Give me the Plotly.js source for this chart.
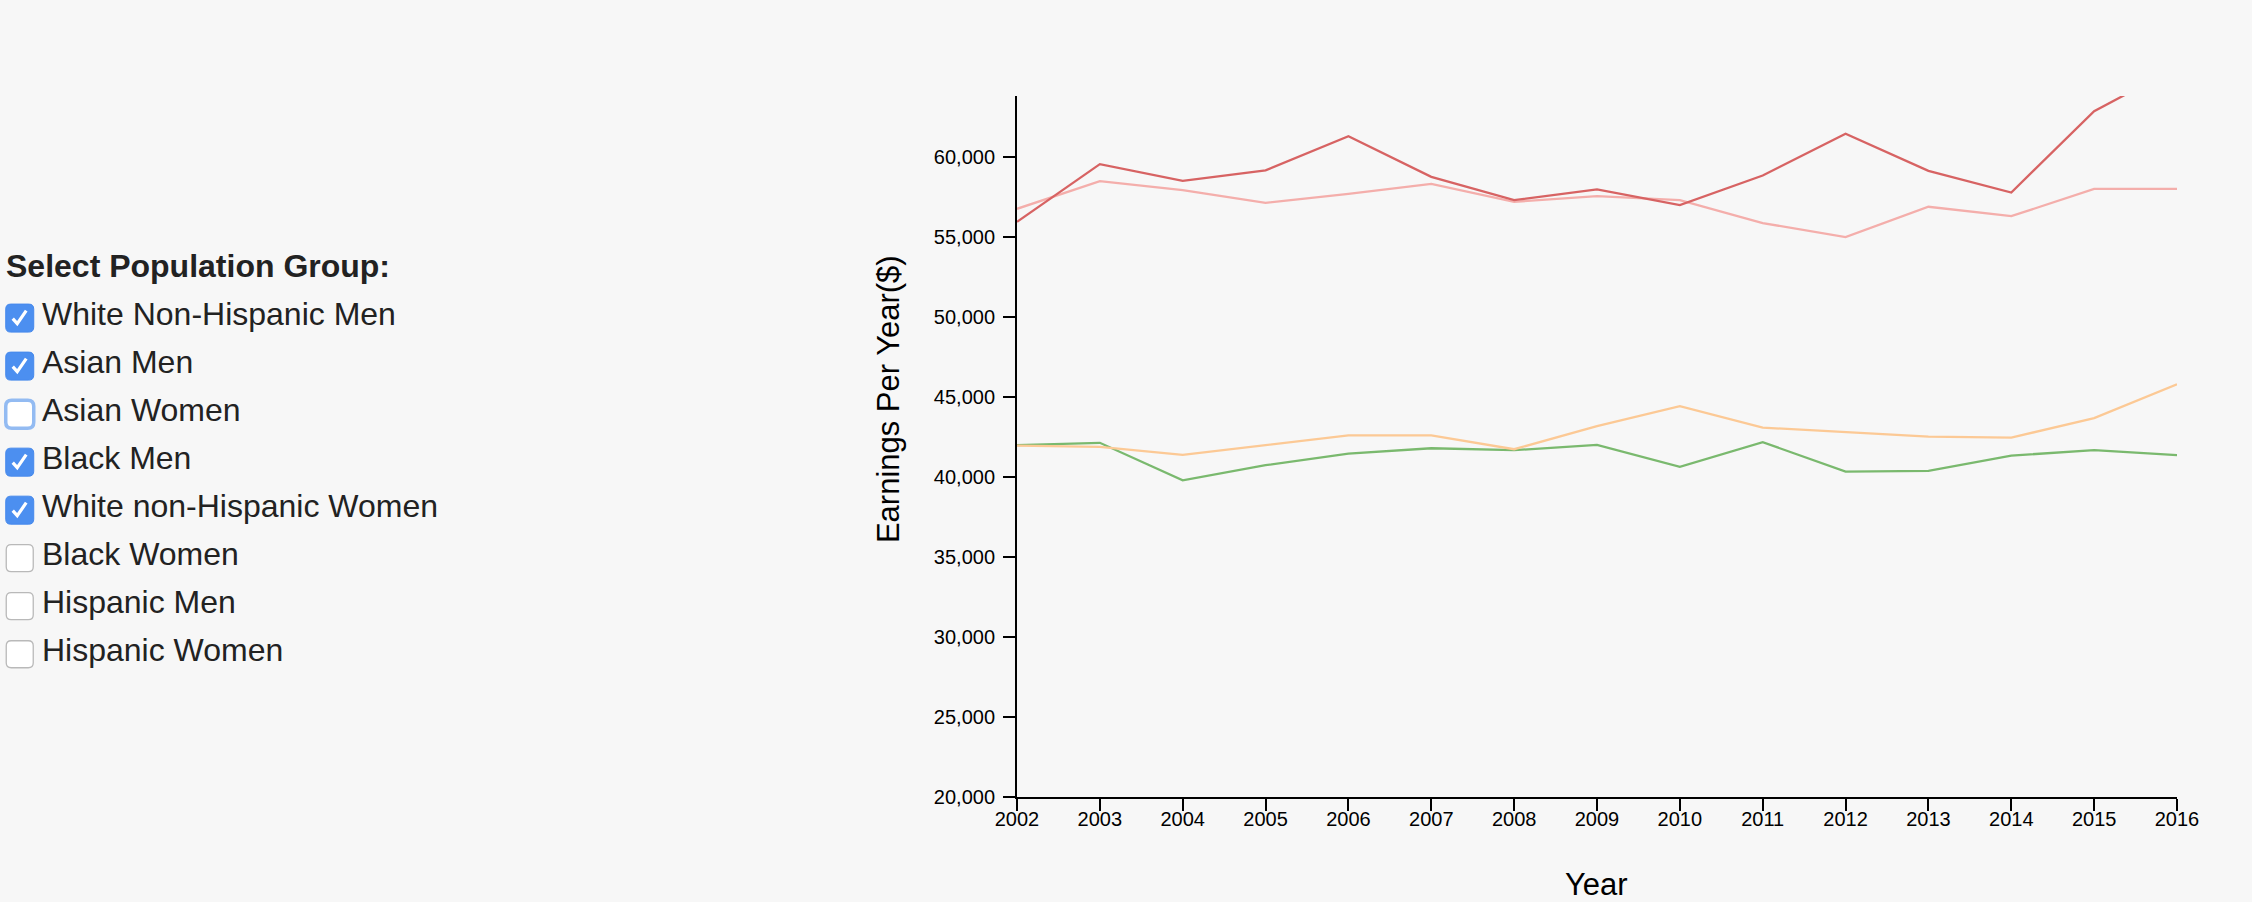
<!DOCTYPE html>
<html>
<head>
<meta charset="utf-8">
<script src="https://cdn.plot.ly/plotly-3.0.1.min.js"></script>
<style>
html,body{margin:0;padding:0;background:#f7f7f7;}
#chart{width:2252px;height:902px;}
</style>
</head>
<body>
<div id="chart"></div>
<script>
// ---- data ----
const years = [2002,2003,2004,2005,2006,2007,2008,2009,2010,2011,2012,2013,2014,2015,2016];
const asianMen = [55940,59540,58500,59150,61290,58750,57290,57960,56980,58830,61440,59120,57770,62850,65600];
const whiteMen = [56750,58480,57920,57120,57690,58310,57190,57540,57290,55860,54980,56880,56290,58000,58000];
const whiteWomen = [41960,41880,41380,41980,42590,42590,41730,43170,44420,43080,42810,42520,42460,43670,45790];
const blackMen = [41980,42130,39790,40730,41460,41790,41670,42000,40630,42170,40330,40380,41330,41670,41360];

const groupNames = ["White Non-Hispanic Men","Asian Men","Asian Women","Black Men","White non-Hispanic Women","Black Women","Hispanic Men","Hispanic Women"];
const groupChecked = [true,true,false,true,true,false,false,false];
const focusedGroup = 2;
const legendTitle = "Select Population Group:";
const yTitle = "Earnings Per Year($)";
const xTitle = "Year";

const series = [
  {name:"White Non-Hispanic Men", y: whiteMen, color:"#f4aeab", width:2.3},
  {name:"Asian Men", y: asianMen, color:"#d76363", width:2.3},
  {name:"Black Men", y: blackMen, color:"#7ab96e", width:2.3},
  {name:"White non-Hispanic Women", y: whiteWomen, color:"#fcc995", width:2.3}
];

// ---- geometry ----
const W = 2252, H = 902;
const L = 1017, R = 2176.7, T = 96, B = 796.7;
const px2x = p => (p - L) / (R - L);
const py2y = p => (B - p) / (B - T);
const FONT = "Liberation Sans, Arial, Helvetica, sans-serif";

function rr(x0, y0, x1, y1, r) {
  const P = (x, y) => px2x(x) + "," + py2y(y);
  return "M" + P(x0 + r, y0) + " L" + P(x1 - r, y0) + " Q" + P(x1, y0) + " " + P(x1, y0 + r) +
    " L" + P(x1, y1 - r) + " Q" + P(x1, y1) + " " + P(x1 - r, y1) +
    " L" + P(x0 + r, y1) + " Q" + P(x0, y1) + " " + P(x0, y1 - r) +
    " L" + P(x0, y0 + r) + " Q" + P(x0, y0) + " " + P(x0 + r, y0) + " Z";
}

const traces = series.map(s => ({
  type: "scatter", mode: "lines", x: years, y: s.y, name: s.name,
  line: {color: s.color, width: s.width}, hoverinfo: "skip"
}));

const annotations = [];
const shapes = [];

annotations.push({
  xref: "paper", yref: "paper", x: px2x(4.5), y: py2y(266), xanchor: "left", yanchor: "middle",
  text: "<b>" + legendTitle + "</b>", showarrow: false,
  font: {family: FONT, size: 32, color: "#222222"}
});

groupNames.forEach((g, i) => {
  const base = 326 + i * 48;
  annotations.push({
    xref: "paper", yref: "paper", x: px2x(40), y: py2y(base - 12), xanchor: "left", yanchor: "middle",
    text: g, showarrow: false, font: {family: FONT, size: 32, color: "#222222"}
  });
  const top = base - 22, bot = base + 6, lft = 6, rgt = 34;
  if (groupChecked[i]) {
    shapes.push({type: "path", xref: "paper", yref: "paper", path: rr(lft, top, rgt, bot, 5),
      fillcolor: "#4c8ff0", line: {color: "#4689ec", width: 1}});
    const P = (x, y) => px2x(lft + x) + "," + py2y(top + y);
    shapes.push({type: "path", xref: "paper", yref: "paper",
      path: "M" + P(7, 14.5) + " L" + P(11.5, 19.5) + " L" + P(20.5, 6.5),
      line: {color: "#ffffff", width: 3.2}});
  } else if (i === focusedGroup) {
    shapes.push({type: "path", xref: "paper", yref: "paper", path: rr(lft, top, rgt, bot, 6),
      fillcolor: "#ffffff", line: {color: "#93bbf2", width: 3.5}});
  } else {
    shapes.push({type: "path", xref: "paper", yref: "paper", path: rr(lft + 0.5, top + 0.5, rgt - 0.5, bot - 0.5, 5),
      fillcolor: "#ffffff", line: {color: "#b9b9b9", width: 1.3}});
  }
});

annotations.push({
  xref: "paper", yref: "paper", x: px2x(888), y: py2y(399), xanchor: "center", yanchor: "middle",
  text: yTitle, textangle: -90, showarrow: false, font: {family: FONT, size: 31, color: "#000000"}
});
annotations.push({
  xref: "paper", yref: "paper", x: px2x(1596.8), y: py2y(884.3), xanchor: "center", yanchor: "middle",
  text: xTitle, showarrow: false, font: {family: FONT, size: 31, color: "#000000"}
});

const layout = {
  width: W, height: H,
  paper_bgcolor: "#f7f7f7", plot_bgcolor: "rgba(0,0,0,0)",
  margin: {l: L, r: W - R, t: T, b: H - B, pad: 0},
  showlegend: false, hovermode: false,
  xaxis: {
    range: [2002, 2016], tickmode: "array", tickvals: years, ticktext: years.map(String),
    showgrid: false, zeroline: false, showline: true, linecolor: "#000000", linewidth: 2,
    ticks: "outside", ticklen: 12, tickwidth: 2, tickcolor: "#000000", ticklabelstandoff: -9,
    tickfont: {family: FONT, size: 20, color: "#000000"}, fixedrange: true
  },
  yaxis: {
    range: [20000, 63800], tick0: 20000, dtick: 5000, tickformat: ",d",
    showgrid: false, zeroline: false, showline: true, linecolor: "#000000", linewidth: 2,
    ticks: "outside", ticklen: 12, tickwidth: 2, tickcolor: "#000000", ticklabelstandoff: 4,
    tickfont: {family: FONT, size: 20, color: "#000000"}, fixedrange: true
  },
  annotations: annotations,
  shapes: shapes
};

Plotly.newPlot("chart", traces, layout, {displayModeBar: false, staticPlot: true});
</script>
</body>
</html>
